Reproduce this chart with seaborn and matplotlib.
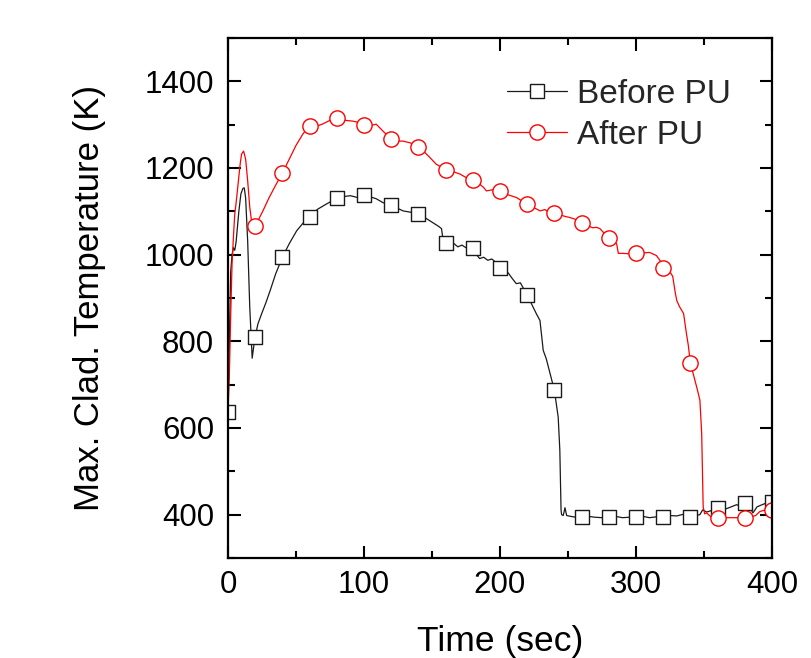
import matplotlib
matplotlib.use("Agg")
import matplotlib.pyplot as plt
from matplotlib.lines import Line2D
from matplotlib.ticker import MultipleLocator
import numpy as np
import pandas as pd
import seaborn as sns

# ---------------- data ----------------
before_t = [0, 1, 2, 3, 4, 5, 6, 8, 9.5, 11, 12, 13, 14.5, 16, 17.8, 19, 20, 22, 24.8, 28,
            31, 35, 40, 45, 50.5, 55, 60, 66, 72.5, 80, 85, 90, 95, 100, 105, 109, 114, 120,
            124, 128.7, 134, 140, 145, 150, 155, 157, 158, 160, 163, 166, 169, 172, 175, 178,
            180, 182, 185, 188, 191, 194, 197, 200, 203, 206, 209, 212, 215, 218, 220, 222,
            224.5, 227, 229.4, 231.8, 234, 236.8, 240, 242.8, 244, 244.9, 245.3, 246.5, 247.8,
            249, 252, 256, 260, 265, 270, 275, 280, 285, 290, 295, 300, 305, 310, 315, 320,
            325, 330, 335, 340, 344, 347, 349, 352, 355, 360, 365, 370, 374, 377, 380, 383,
            386, 389, 392, 396, 400]
before_T = [637, 800, 960, 1000, 1016, 1010, 1030, 1100, 1140, 1153, 1154, 1130, 1030, 880, 761,
            790, 811, 840, 864, 890, 917, 955, 994, 1025, 1055, 1072, 1088, 1105, 1117, 1130,
            1134, 1136, 1132, 1137, 1133, 1129, 1120, 1114, 1108, 1101, 1098, 1094, 1085, 1075,
            1065, 1060, 1038, 1028, 1022, 1026, 1018, 1022, 1016, 1020, 1016, 1003, 991, 994,
            987, 990, 982, 970, 962, 958, 945, 933, 935, 918, 908, 894, 878, 862, 848, 779,
            760, 726, 687, 625, 549, 411, 400, 398, 416, 398, 396, 394, 394, 396, 394, 393,
            394, 396, 393, 394, 394, 396, 393, 395, 394, 398, 397, 401, 394, 398, 400, 411,
            406, 409, 416, 412, 418, 423, 419, 428, 420, 404, 418, 422, 427, 430]

after_t = [0, 1, 2, 3, 4, 5, 6, 7, 8, 9, 10, 11.5, 13, 14.5, 16, 17.6, 20, 22, 25.7, 30, 35,
           40, 45, 50, 55, 60, 65, 70, 75, 80, 86, 92, 96, 100, 105, 109, 114, 120, 124, 128.7,
           134, 140, 144, 148.5, 153, 160, 165, 170.6, 175, 180, 183, 185, 188, 190, 195, 200,
           204, 208, 212, 216, 220, 224, 229.5, 233, 236, 240, 244, 248, 251, 255, 260, 264,
           268, 271, 273.5, 277, 280, 283, 285.8, 287, 290, 295, 300, 305, 310, 315, 318, 320,
           322, 325, 327, 329, 330, 332, 335, 337, 338.5, 340, 342, 345, 347, 348.3, 349.4,
           350.5, 352, 355, 360, 365, 370, 375, 380, 384, 388, 391, 394, 397, 400]
after_T = [637, 720, 860, 979, 1040, 1094, 1120, 1150, 1180, 1210, 1232, 1239, 1220, 1170, 1110,
           1071, 1067, 1078, 1101, 1130, 1160, 1188, 1220, 1252, 1278, 1298, 1296, 1302, 1310,
           1315, 1310, 1308, 1305, 1299, 1298, 1301, 1285, 1266, 1262, 1262, 1258, 1248, 1238,
           1224, 1209, 1196, 1192, 1186, 1178, 1172, 1168, 1163, 1155, 1147, 1150, 1147, 1140,
           1136, 1132, 1124, 1117, 1110, 1101, 1104, 1098, 1095, 1092, 1088, 1086, 1082, 1073,
           1068, 1062, 1063, 1060, 1048, 1039, 1032, 1025, 1003, 1003, 1002, 1003, 1004, 1005,
           998, 985, 969, 965, 960, 950, 910, 894, 880, 864, 820, 790, 750, 726, 690, 664, 588,
           418, 402, 404, 395, 393, 393, 393, 393, 393, 394, 398, 407, 410, 409, 410]

series_labels = ["Before PU", "After PU"]
x_ticks = [0, 100, 200, 300, 400]
y_ticks = [400, 600, 800, 1000, 1200, 1400]

# ---------------- style ----------------
sns.set_theme(style="ticks")
plt.rcParams["font.family"] = ["Liberation Sans", "DejaVu Sans"]
plt.rcParams["axes.linewidth"] = 1.6

before = pd.DataFrame({"t": before_t, "T": before_T})
after = pd.DataFrame({"t": after_t, "T": after_T})
before_m = before[np.isclose(before["t"] % 20, 0)]
after_m = after[np.isclose(after["t"] % 20, 0) & (after["t"] > 0)]

fig = plt.figure(figsize=(8.11, 6.58), dpi=100)
ax = fig.add_axes([0.2811, 0.1520, 0.6708, 0.7903])

c_before = "#1a1a1a"
c_after = "#ff0000"
ms = 11

sns.lineplot(data=before, x="t", y="T", ax=ax, color=c_before, linewidth=0.9,
             sort=False, estimator=None, zorder=2)
sns.lineplot(data=after, x="t", y="T", ax=ax, color=c_after, linewidth=0.9,
             sort=False, estimator=None, zorder=2)
sns.scatterplot(data=before_m, x="t", y="T", ax=ax, marker="s", s=(ms * 0.92) ** 2,
                facecolor="white", edgecolor=c_before, linewidth=1.0, zorder=3)
sns.scatterplot(data=after_m, x="t", y="T", ax=ax, marker="o", s=ms ** 2,
                facecolor="white", edgecolor=c_after, linewidth=1.0, zorder=3)

ax.set_xlim(0, 400)
ax.set_ylim(300, 1500)
ax.set_xticks(x_ticks)
ax.set_yticks(y_ticks)
ax.xaxis.set_minor_locator(MultipleLocator(50))
ax.yaxis.set_minor_locator(MultipleLocator(100))
ax.tick_params(which="both", direction="in", top=True, right=True, width=1.5, colors="black")
ax.tick_params(which="major", length=9, labelsize=22.5)
ax.tick_params(which="minor", length=5)
ax.tick_params(axis="x", which="major", pad=9)
ax.tick_params(axis="y", which="major", pad=10)
for s in ax.spines.values():
    s.set_color("black")
    s.set_linewidth(1.6)
    s.set_zorder(4)

ax.set_xlabel("Time (sec)", fontsize=25.5, labelpad=18, color="black")
ax.set_ylabel("Max. Clad. Temperature (K)", fontsize=25, labelpad=28, color="black")

handles = [
    Line2D([], [], color=c_before, linewidth=0.9, marker="s", markersize=ms * 0.92,
           markerfacecolor="white", markeredgecolor=c_before, markeredgewidth=1.0),
    Line2D([], [], color=c_after, linewidth=0.9, marker="o", markersize=ms,
           markerfacecolor="white", markeredgecolor=c_after, markeredgewidth=1.0),
]
leg = ax.legend(handles, series_labels, loc="upper left", bbox_to_anchor=(0.513, 0.922),
                frameon=False, fontsize=24, handlelength=1.8, handletextpad=0.3,
                labelspacing=0.3, borderpad=0, borderaxespad=0)

fig.savefig("out.png", dpi=100)
